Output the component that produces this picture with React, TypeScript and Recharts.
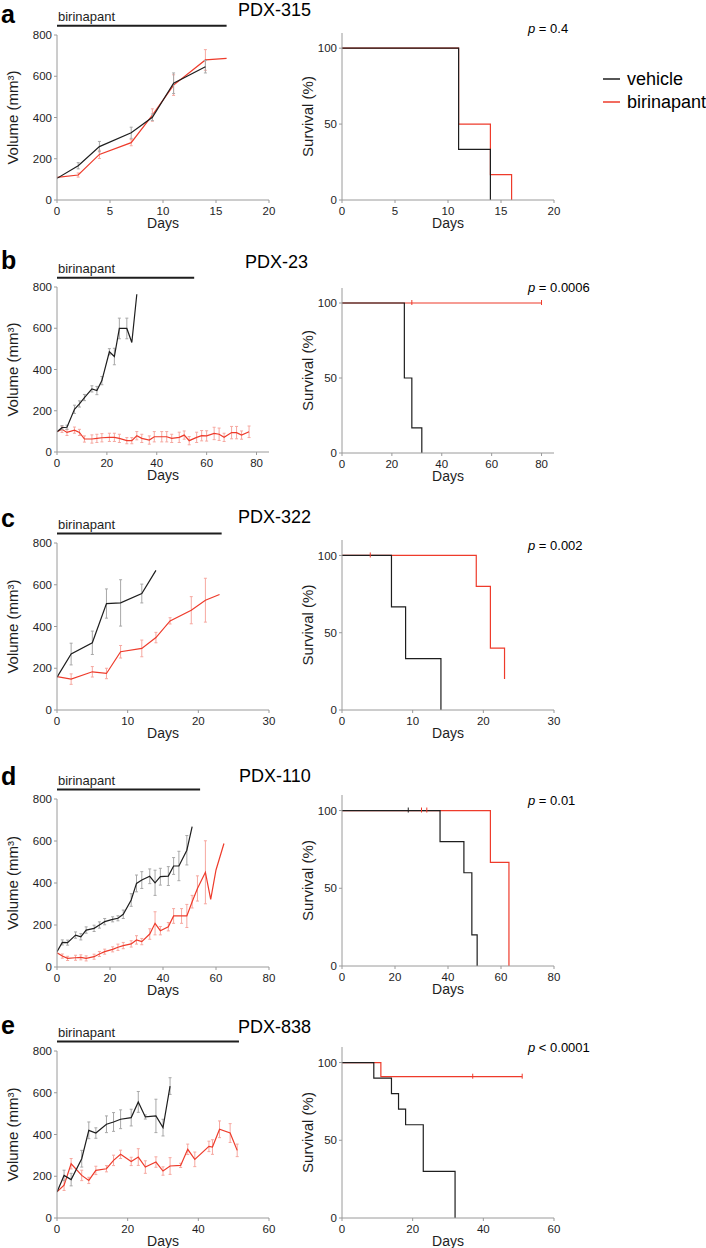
import React from 'react';
import { LineChart, Line, XAxis, YAxis, ErrorBar, ReferenceLine } from 'recharts';

const FONT = '"Liberation Sans", Arial, Helvetica, sans-serif';
const INK = '#1e1e1e';
const RED = '#ee3b2b';
const AXIS = '#9a9a9a';
const ERR_GREY = '#a8a8a8';
const ERR_RED = '#f6a8a0';

// ---- a: PDX-315 ----
const aVehDays = [0, 2, 4, 7, 9, 11, 14];
const aVehVol = [105, 166, 259, 326, 401, 566, 646];
const aVehErr = [0, 15, 25, 27, 16, 50, 30];
const aBirDays = [0, 2, 4, 7, 9, 11, 14, 16];
const aBirVol = [110, 121, 221, 278, 412, 557, 679, 687];
const aBirErr = [0, 10, 20, 15, 30, 50, 50, 0];
const aVehSurvDays = [0, 11, 14];
const aVehSurv = [100, 33.3, 0];
const aBirSurvDays = [0, 11, 14, 16];
const aBirSurv = [100, 50, 16.7, 0];

// ---- b: PDX-23 ----
const bVehDays = [0, 2, 4, 7, 9, 11, 14, 16, 18, 21, 23, 25, 28, 30, 32];
const bVehVol = [98, 118, 120, 207, 233, 264, 306, 298, 346, 486, 463, 599, 599, 531, 765];
const bVehErr = [0, 10, 10, 20, 15, 15, 15, 20, 20, 15, 40, 50, 50, 0, 0];
const bBirDays = [0, 2, 4, 7, 9, 11, 14, 16, 18, 21, 23, 25, 28, 30, 32, 34, 37, 39, 42, 44, 46, 49, 51, 53, 56, 58, 60, 63, 65, 67, 70, 72, 74, 77];
const bBirVol = [98, 110, 95, 106, 95, 63, 63, 66, 69, 71, 71, 66, 55, 55, 79, 66, 58, 74, 74, 74, 66, 71, 82, 55, 71, 79, 78, 90, 86, 71, 94, 94, 82, 98];
const bBirErr = [0, 15, 15, 15, 15, 15, 20, 20, 20, 20, 20, 20, 15, 15, 20, 20, 20, 25, 25, 25, 20, 25, 20, 20, 25, 25, 25, 30, 30, 20, 30, 30, 20, 28];
const bVehSurvDays = [0, 25, 28, 32];
const bVehSurv = [100, 50, 16.7, 0];
const bBirSurvDays = [0, 80];
const bBirSurv = [100, 100];
const bBirCensDays = [28, 80];
const bBirCens = [100, 100];

// ---- c: PDX-322 ----
const cVehDays = [0, 2, 5, 7, 9, 12, 14];
const cVehVol = [157, 268, 322, 510, 513, 558, 669];
const cVehErr = [0, 52, 56, 70, 111, 45, 0];
const cBirDays = [0, 2, 5, 7, 9, 12, 14, 16, 19, 21, 23];
const cBirVol = [160, 148, 183, 175, 279, 295, 347, 427, 478, 526, 553];
const cBirErr = [0, 25, 25, 25, 30, 40, 25, 15, 65, 105, 0];
const cVehSurvDays = [0, 7, 9, 14];
const cVehSurv = [100, 66.7, 33.3, 0];
const cBirSurvDays = [0, 19, 21, 23];
const cBirSurv = [100, 80, 40, 20];
const cBirCensDays = [4];
const cBirCens = [100];

// ---- d: PDX-110 ----
const dVehDays = [0, 2, 4, 7, 9, 11, 14, 16, 18, 21, 23, 25, 28, 30, 32, 35, 37, 39, 42, 44, 46, 49, 51];
const dVehVol = [73, 117, 116, 152, 144, 176, 184, 200, 216, 227, 232, 251, 319, 398, 414, 432, 401, 430, 433, 481, 481, 556, 668];
const dVehErr = [0, 12, 12, 15, 15, 15, 15, 15, 15, 12, 12, 20, 30, 40, 40, 35, 60, 40, 45, 40, 70, 70, 0];
const dBirDays = [0, 2, 4, 7, 9, 11, 14, 16, 18, 21, 23, 25, 28, 30, 32, 35, 37, 39, 42, 44, 47, 49, 51, 53, 56, 58, 60, 63];
const dBirVol = [68, 52, 41, 44, 46, 41, 49, 62, 73, 84, 94, 102, 110, 129, 121, 157, 208, 173, 192, 243, 243, 243, 311, 374, 451, 322, 462, 588];
const dBirErr = [0, 10, 10, 12, 12, 12, 12, 12, 12, 12, 15, 15, 15, 20, 15, 25, 55, 20, 20, 35, 35, 55, 30, 60, 150, 0, 0, 0];
const dVehSurvDays = [0, 37, 46, 49, 51];
const dVehSurv = [100, 80, 60, 20, 0];
const dBirSurvDays = [0, 56, 63];
const dBirSurv = [100, 66.7, 0];
const dVehCensDays = [25];
const dVehCens = [100];
const dBirCensDays = [30, 32];
const dBirCens = [100, 100];

// ---- e: PDX-838 ----
const eVehDays = [0, 2, 4, 7, 9, 11, 14, 16, 18, 21, 23, 25, 28, 30, 32];
const eVehVol = [125, 204, 184, 284, 420, 407, 449, 460, 473, 481, 556, 484, 489, 433, 632];
const eVehErr = [0, 25, 30, 40, 40, 25, 40, 45, 45, 40, 50, 10, 80, 40, 40];
const eBirDays = [0, 2, 4, 7, 9, 11, 14, 16, 18, 21, 23, 25, 28, 30, 32, 35, 37, 39, 43, 44, 46, 49, 51];
const eBirVol = [125, 157, 260, 204, 180, 228, 236, 276, 305, 271, 292, 244, 268, 225, 249, 252, 329, 281, 343, 340, 425, 407, 324];
const eBirErr = [0, 25, 25, 25, 15, 20, 15, 25, 20, 20, 40, 30, 25, 20, 40, 10, 25, 35, 25, 35, 40, 45, 30];
const eVehSurvDays = [0, 9, 14, 16, 18, 23, 32];
const eVehSurv = [100, 90, 80, 70, 60, 30, 0];
const eBirSurvDays = [0, 11, 51];
const eBirSurv = [100, 90.9, 90.9];
const eBirCensDays = [37, 51];
const eBirCens = [90.9, 90.9];

const VOL_TICKS = [0, 200, 400, 600, 800];
const SURV_TICKS = [0, 50, 100];

const vol = (days: number[], v: number[], e: number[]) => days.map((day, i) => ({ day, vol: v[i], err: e[i] }));
const surv = (days: number[], v: number[]) => days.map((day, i) => ({ day, pct: v[i] }));

const panels = [
  {
    letter: 'a', title: 'PDX-315', sign: '=', pval: '0.4', xMax: 20, xTicks: [0, 5, 10, 15, 20], treatEnd: 16,
    veh: vol(aVehDays, aVehVol, aVehErr), bir: vol(aBirDays, aBirVol, aBirErr),
    vehSurv: surv(aVehSurvDays, aVehSurv), birSurv: surv(aBirSurvDays, aBirSurv), vehCens: [], birCens: [],
    volBottom: 200, volH: 165, survBottom: 200, survH: 167, letterY: 23, titleX: 238, titleY: 16, pY: 33,
  },
  {
    letter: 'b', title: 'PDX-23', sign: '=', pval: '0.0006', xMax: 85, xTicks: [0, 20, 40, 60, 80], treatEnd: 55,
    veh: vol(bVehDays, bVehVol, bVehErr), bir: vol(bBirDays, bBirVol, bBirErr),
    vehSurv: surv(bVehSurvDays, bVehSurv), birSurv: surv(bBirSurvDays, bBirSurv), vehCens: [], birCens: surv(bBirCensDays, bBirCens),
    volBottom: 452, volH: 165, survBottom: 453, survH: 165, letterY: 269, titleX: 245, titleY: 268, pY: 292,
  },
  {
    letter: 'c', title: 'PDX-322', sign: '=', pval: '0.002', xMax: 30, xTicks: [0, 10, 20, 30], treatEnd: 23.3,
    veh: vol(cVehDays, cVehVol, cVehErr), bir: vol(cBirDays, cBirVol, cBirErr),
    vehSurv: surv(cVehSurvDays, cVehSurv), birSurv: surv(cBirSurvDays, cBirSurv), vehCens: [], birCens: surv(cBirCensDays, cBirCens),
    volBottom: 710, volH: 167, survBottom: 710, survH: 170, letterY: 527, titleX: 238, titleY: 523, pY: 550,
  },
  {
    letter: 'd', title: 'PDX-110', sign: '=', pval: '0.01', xMax: 80, xTicks: [0, 20, 40, 60, 80], treatEnd: 54,
    veh: vol(dVehDays, dVehVol, dVehErr), bir: vol(dBirDays, dBirVol, dBirErr),
    vehSurv: surv(dVehSurvDays, dVehSurv), birSurv: surv(dBirSurvDays, dBirSurv),
    vehCens: surv(dVehCensDays, dVehCens), birCens: surv(dBirCensDays, dBirCens),
    volBottom: 967, volH: 168, survBottom: 966, survH: 171, letterY: 785, titleX: 239, titleY: 782, pY: 805,
  },
  {
    letter: 'e', title: 'PDX-838', sign: '<', pval: '0.0001', xMax: 60, xTicks: [0, 20, 40, 60], treatEnd: 51.5,
    veh: vol(eVehDays, eVehVol, eVehErr), bir: vol(eBirDays, eBirVol, eBirErr),
    vehSurv: surv(eVehSurvDays, eVehSurv), birSurv: surv(eBirSurvDays, eBirSurv), vehCens: [], birCens: surv(eBirCensDays, eBirCens),
    volBottom: 1218, volH: 167, survBottom: 1218, survH: 171, letterY: 1034, titleX: 238, titleY: 1033, pY: 1052,
  },
];

type Panel = (typeof panels)[number];

const MT = 30;
const XH = 40;
const YW = 57;
const PLOT_W = 212;
const CHART_W = YW + PLOT_W + 20;
const SURV_LEFT = 285;

const tickStyle = { fill: INK, fontSize: 11.5 };

const censorTick = (color: string) => (props: any) => (
  <line key={`c-${props.index}`} x1={props.cx} x2={props.cx} y1={props.cy - 3} y2={props.cy + 2} stroke={color} strokeWidth={1} />
);

function VolumeChart({ p }: { p: Panel }) {
  return (
    <div style={{ position: 'absolute', left: 0, top: p.volBottom - p.volH - MT }}>
      <LineChart width={CHART_W} height={MT + p.volH + XH} margin={{ top: MT, right: 20, bottom: 0, left: 0 }}>
        <XAxis type="number" dataKey="day" domain={[0, p.xMax]} ticks={p.xTicks} interval={0} allowDataOverflow
          height={XH} stroke={AXIS} tick={tickStyle} tickSize={3} tickMargin={4}
          label={{ value: 'Days', position: 'insideBottom', offset: XH - 28, fill: INK, fontSize: 14 }} />
        <YAxis type="number" domain={[0, 800]} ticks={VOL_TICKS} interval={0} allowDataOverflow width={YW}
          stroke={AXIS} tick={tickStyle} tickSize={3} tickMargin={2}
          label={{ value: 'Volume (mm³)', angle: -90, position: 'insideLeft', offset: 12.5, fill: INK, fontSize: 15, style: { textAnchor: 'middle' } }} />
        <ReferenceLine
          segment={[{ x: 0, y: 845 }, { x: p.treatEnd, y: 845 }]}
          ifOverflow="visible" stroke={INK} strokeWidth={2}
          label={(lp: any) => {
            const vb = lp && lp.viewBox ? lp.viewBox : { x: YW, y: 0 };
            const x = vb.x1 !== undefined ? Math.min(vb.x1, vb.x2) : vb.x;
            const y = vb.y1 !== undefined ? vb.y1 : vb.y;
            return <text x={x + 1} y={y - 5} fontSize={13} fill={INK}>birinapant</text>;
          }}
        />
        <Line data={p.bir} dataKey="vol" stroke={RED} strokeWidth={1.2} dot={false} isAnimationActive={false}>
          <ErrorBar dataKey="err" direction="y" width={1.5} stroke={ERR_RED} strokeWidth={1} />
        </Line>
        <Line data={p.veh} dataKey="vol" stroke={INK} strokeWidth={1.2} dot={false} isAnimationActive={false}>
          <ErrorBar dataKey="err" direction="y" width={1.5} stroke={ERR_GREY} strokeWidth={1} />
        </Line>
      </LineChart>
    </div>
  );
}

function SurvivalChart({ p }: { p: Panel }) {
  return (
    <div style={{ position: 'absolute', left: SURV_LEFT, top: p.survBottom - p.survH - MT }}>
      <LineChart width={CHART_W} height={MT + p.survH + XH} margin={{ top: MT, right: 20, bottom: 0, left: 0 }}>
        <XAxis type="number" dataKey="day" domain={[0, p.xMax]} ticks={p.xTicks} interval={0} allowDataOverflow
          height={XH} stroke={AXIS} tick={tickStyle} tickSize={3} tickMargin={4}
          label={{ value: 'Days', position: 'insideBottom', offset: XH - 28, fill: INK, fontSize: 14 }} />
        <YAxis type="number" domain={[0, 110]} ticks={SURV_TICKS} interval={0} allowDataOverflow width={YW}
          stroke={AXIS} tick={tickStyle} tickSize={3} tickMargin={2}
          label={{ value: 'Survival (%)', angle: -90, position: 'insideLeft', offset: 22.5, fill: INK, fontSize: 15, style: { textAnchor: 'middle' } }} />
        <Line data={p.birSurv} dataKey="pct" type="stepAfter" stroke={RED} strokeWidth={1.2} dot={false} isAnimationActive={false} />
        <Line data={p.birCens} dataKey="pct" stroke="none" dot={censorTick(RED)} activeDot={false} isAnimationActive={false} />
        <Line data={p.vehSurv} dataKey="pct" type="stepAfter" stroke={INK} strokeWidth={1.2} dot={false} isAnimationActive={false} />
        <Line data={p.vehCens} dataKey="pct" stroke="none" dot={censorTick(INK)} activeDot={false} isAnimationActive={false} />
      </LineChart>
    </div>
  );
}

export default function App() {
  return (
    <div style={{ position: 'absolute', left: 0, top: 0, width: 706, height: 1248, background: '#fff', fontFamily: FONT }}>
      {panels.map((p) => (
        <React.Fragment key={p.letter}>
          <VolumeChart p={p} />
          <SurvivalChart p={p} />
        </React.Fragment>
      ))}
      <svg width={706} height={1248} style={{ position: 'absolute', left: 0, top: 0, pointerEvents: 'none' }} fontFamily={FONT}>
        {panels.map((p) => (
          <g key={p.letter}>
            <text x={1} y={p.letterY} fontSize={25} fontWeight="bold" fill="#000">{p.letter}</text>
            <text x={p.titleX} y={p.titleY} fontSize={18} fill="#000">{p.title}</text>
            <text x={528} y={p.pY} fontSize={13} fill="#000">
              <tspan fontStyle="italic">p</tspan>{` ${p.sign} ${p.pval}`}
            </text>
          </g>
        ))}
        <line x1={603} x2={620} y1={79} y2={79} stroke={INK} strokeWidth={1.5} />
        <text x={627} y={85} fontSize={18} fill="#000">vehicle</text>
        <line x1={603} x2={620} y1={102} y2={102} stroke={RED} strokeWidth={1.5} />
        <text x={627} y={108} fontSize={18} fill="#000">birinapant</text>
      </svg>
    </div>
  );
}
